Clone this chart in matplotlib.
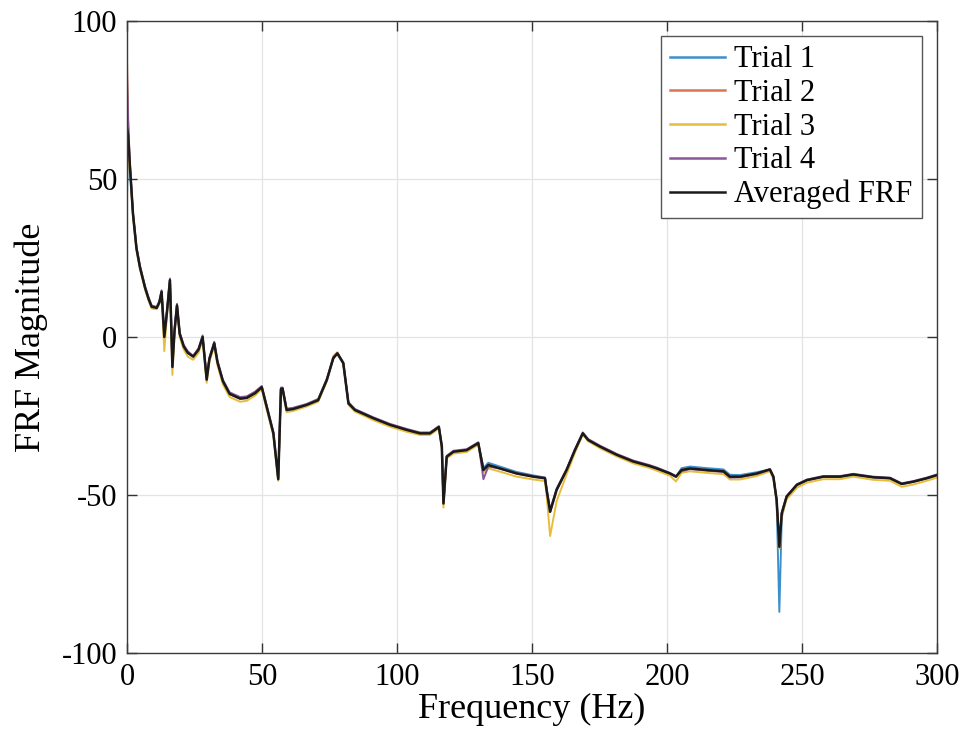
import numpy as np
import matplotlib.pyplot as plt

# Frequency points (Hz) and FRF magnitude of each trial and the average
freq = [0, 0.4, 1, 2.2, 3.5, 4.8, 6.7, 8, 9.1, 11,
        12, 12.8, 13.8, 14.8, 15.9, 16.8, 17.6, 18.5, 19.5, 21,
        22.5, 24.5, 26.5, 28, 29.5, 30.5, 32.3, 33.5, 35.5, 38,
        41.9, 44.3, 47.4, 49.9, 51.1, 54.2, 56, 57, 57.6, 59.1,
        61.5, 66.5, 70.8, 74, 76.4, 77.9, 80.1, 82, 84.4, 91.2,
        97.4, 103.6, 108.5, 112.2, 115.5, 116.6, 117.2, 118.4, 120.9, 125.8,
        130.1, 132, 133.8, 138.1, 144.3, 150.5, 154.8, 155.4, 156.7, 159.1,
        162.8, 165.9, 168.8, 170.8, 175.2, 181.4, 187.5, 193.4, 196.2, 201.1,
        203.3, 205.4, 208.5, 214.7, 220.9, 223.3, 227, 233.2, 238.1, 239.4,
        240.6, 241.6, 242.5, 244.3, 248.1, 251.8, 257.9, 264.1, 269, 276.4,
        282.6, 286.9, 291.2, 296.2, 300]

trial1 = [45, 60, 55, 39, 28, 22, 15.5, 12, 9.6, 9.2,
          11, 14.3, 0, 8, 18, -9.5, 2, 10, 1, -3,
          -5, -6.2, -4, 0, -13.5, -7, -2, -8, -14, -18,
          -19.5, -19.3, -17.8, -15.9, -20, -30.5, -45, -16.5, -16.3, -23.1,
          -22.8, -21.5, -20, -13.6, -6.7, -5.2, -8.3, -21, -23.1, -25.7,
          -27.8, -29.4, -30.5, -30.5, -28.5, -34.7, -52.7, -37.9, -36.3, -35.8,
          -33.6, -41.5, -39.8, -41, -42.7, -43.8, -44.5, -48.4, -55.3, -48.4,
          -42.1, -35.8, -30.5, -32.6, -34.7, -37.3, -39.4, -40.8, -41.6, -43.2,
          -44.2, -41.5, -41, -41.5, -41.9, -43.6, -43.7, -42.8, -41.9, -44.2,
          -52, -87, -57, -50.5, -46.8, -45.3, -44.2, -44.2, -43.5, -44.4,
          -44.7, -46.5, -45.8, -44.7, -43.7]

trial2 = [87, 70, 55, 39, 28, 22, 15.5, 12, 9.6, 9.2,
          11, 14.3, 0.5, 8, 18, -9, 2, 10, 1, -3,
          -5, -6, -4, 0, -13, -7, -2, -8, -14, -18,
          -19.5, -19, -17.5, -15.9, -20, -30.5, -45, -16.5, -16.3, -23,
          -22.6, -21.5, -20, -13.6, -6.7, -5.2, -8.3, -21, -23.1, -25.7,
          -27.8, -29.4, -30.5, -30.5, -28.5, -34.7, -52.7, -37.9, -36.3, -35.8,
          -33.6, -42.1, -40.5, -41.6, -43.2, -44.2, -44.7, -48.4, -55.3, -48.4,
          -42.1, -35.8, -30.5, -32.6, -34.7, -37.3, -39.4, -40.8, -41.6, -43.2,
          -44.2, -42.1, -41.6, -42.1, -42.5, -44.2, -44.2, -43.2, -41.9, -44.2,
          -51.6, -66.4, -55.8, -50.5, -46.8, -45.3, -44.2, -44.2, -43.5, -44.4,
          -44.7, -46.5, -45.8, -44.7, -43.7]

trial3 = [50, 58, 54, 38, 27.5, 21.5, 15, 11.5, 9, 8.8,
          10.5, 13.5, -4.5, 7, 17, -12, 1, 9.5, 0, -4,
          -6.2, -7.2, -5, -0.8, -14.5, -8, -2.8, -9, -15, -19,
          -20.5, -20.2, -18.6, -16.4, -20.8, -31.2, -45.5, -17, -17, -23.8,
          -23.4, -22, -20.5, -14, -6, -4.8, -8.5, -21.5, -23.6, -26.3,
          -28.4, -30, -31, -31, -29, -35.3, -54, -38.4, -36.9, -36.4,
          -34.1, -42.8, -41.6, -42.6, -44.2, -45.1, -45.6, -50, -63, -52,
          -43.5, -36.6, -30.9, -33, -35.2, -37.8, -40, -41.4, -42.3, -43.9,
          -45.7, -43, -42.5, -43, -43.4, -45.1, -45.1, -44, -42.5, -45,
          -52.3, -67, -56.5, -51.4, -47.7, -46.1, -45, -45, -44.2, -45.2,
          -45.5, -47.4, -46.7, -45.5, -44.5]

trial4 = [82, 68, 56, 39.5, 28.5, 22.5, 16, 12.5, 10, 9.5,
          11.5, 14.8, 0.5, 8.5, 18.5, -9, 2.5, 10.5, 1.5, -2.5,
          -4.5, -6, -3.5, 0.5, -13, -6.5, -1.5, -7.5, -13.5, -17.5,
          -19, -18.8, -17.3, -15.5, -19.5, -30, -44.5, -16, -16, -22.7,
          -22.4, -21.2, -19.6, -13.2, -6.4, -5, -8, -20.6, -22.8, -25.4,
          -27.5, -29.1, -30.2, -30.2, -28.2, -34.4, -52.2, -37.6, -36, -35.5,
          -33.3, -45, -41, -41.6, -43, -44, -44.5, -48, -54.8, -48,
          -41.8, -35.5, -30.2, -32.3, -34.4, -37, -39.1, -40.5, -41.3, -43,
          -44, -42.5, -41.8, -42.3, -42.7, -44.5, -44.4, -43.4, -42, -44.4,
          -51.4, -66, -55.5, -50.3, -46.6, -45.1, -44, -44, -43.3, -44.2,
          -44.5, -46.3, -45.6, -44.5, -43.5]

averaged = [66, 64, 55, 39, 28, 22, 15.5, 12, 9.6, 9.2,
            11, 14.3, 0, 8, 18, -9.5, 2, 10, 1, -3,
            -5, -6.2, -4, 0, -13.5, -7, -2, -8, -14, -18,
            -19.5, -19.3, -17.8, -15.9, -20, -30.5, -45, -16.5, -16.3, -23.1,
            -22.8, -21.5, -20, -13.6, -6.7, -5.2, -8.3, -21, -23.1, -25.7,
            -27.8, -29.4, -30.5, -30.5, -28.5, -34.7, -52.7, -37.9, -36.3, -35.8,
            -33.6, -42.1, -40.5, -41.6, -43.2, -44.2, -44.7, -48.4, -55.3, -48.4,
            -42.1, -35.8, -30.5, -32.6, -34.7, -37.3, -39.4, -40.8, -41.6, -43.2,
            -44.2, -42.1, -41.6, -42.1, -42.5, -44.2, -44.2, -43.2, -41.9, -44.2,
            -51.6, -66.4, -55.8, -50.5, -46.8, -45.3, -44.2, -44.2, -43.5, -44.4,
            -44.7, -46.5, -45.8, -44.7, -43.7]

labels = ['Trial 1', 'Trial 2', 'Trial 3', 'Trial 4', 'Averaged FRF']
colors = ['#3d8fcc', '#d9764f', '#e9bd3c', '#8a5798', '#1a1a1a']

plt.rcParams['font.family'] = ['Liberation Serif', 'DejaVu Serif']
plt.rcParams['axes.unicode_minus'] = False

fig = plt.figure(figsize=(9.66, 7.45), dpi=100)
ax = fig.add_axes([0.1315, 0.1235, 0.8385, 0.8483])

for y, lab, c in zip([trial1, trial2, trial3, trial4], labels[:4], colors[:4]):
    ax.plot(freq, y, color=c, lw=1.4, label=lab)
ax.plot(freq, averaged, color=colors[4], lw=1.8, label=labels[4])

ax.set_xlim(0, 300)
ax.set_ylim(-100, 100)
ax.set_xticks(np.arange(0, 301, 50))
ax.set_yticks(np.arange(-100, 101, 50))
ax.grid(True, color='#e3e3e3', lw=0.9)
ax.set_axisbelow(True)
ax.tick_params(direction='in', top=True, right=True, length=7, width=1,
               color='#333333', labelsize=22, pad=7)
for s in ax.spines.values():
    s.set_color('#3a3a3a')
    s.set_linewidth(1.0)

ax.set_xlabel('Frequency (Hz)', fontsize=26, labelpad=1)
ax.set_ylabel('FRF Magnitude', fontsize=26, labelpad=10)

leg = ax.legend(loc='upper right', fontsize=22, fancybox=False, framealpha=1,
                edgecolor='#555555', borderaxespad=0.5, labelspacing=0.15,
                handlelength=1.8, handletextpad=0.3, borderpad=0.3)
leg.get_frame().set_linewidth(1.0)
for line in leg.get_lines():
    line.set_linewidth(1.8)

fig.savefig('out.png', dpi=100)
